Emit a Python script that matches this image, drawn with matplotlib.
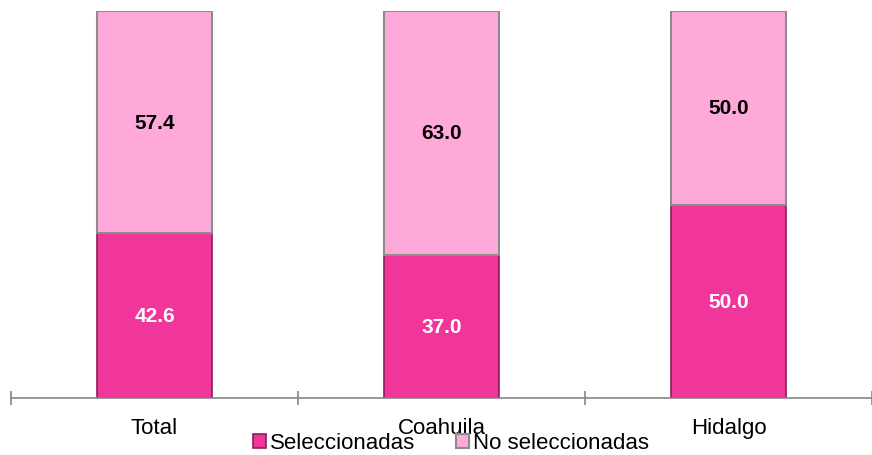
import numpy as np
from matplotlib import pyplot as plt

plt.rcParams['font.family'] = ['Liberation Sans', 'DejaVu Sans']

# Datos
categorias = ['Total', 'Coahuila', 'Hidalgo']
seleccionadas = [42.6, 37.0, 50.0]
no_seleccionadas = [57.4, 63.0, 50.0]

color_sel = '#F0369A'
color_no = '#FFA8DA'

fig = plt.figure(figsize=(8.72, 4.56), dpi=100)
ax = fig.add_axes([11/872, 57/456, 861/872, 387/456])

x = np.arange(len(categorias))
ancho = 0.4

ax.bar(x, seleccionadas, ancho, color=color_sel, edgecolor='#8A1F57',
       linewidth=1.2, label='Seleccionadas')
ax.bar(x, no_seleccionadas, ancho, bottom=seleccionadas, color=color_no,
       edgecolor='#8C8C8C', linewidth=1.5, label='No seleccionadas')

# Etiquetas de valores
for i in range(len(categorias)):
    ax.text(x[i], seleccionadas[i] / 2, f'{seleccionadas[i]:.1f}', ha='center',
            va='center', color='white', fontsize=15, fontweight='bold')
    ax.text(x[i], seleccionadas[i] + no_seleccionadas[i] / 2,
            f'{no_seleccionadas[i]:.1f}', ha='center', va='center',
            color='black', fontsize=15, fontweight='bold')

ax.set_xlim(-0.5, 2.469)
ax.set_ylim(0, 100)
ax.set_yticks([])
for lado in ['top', 'right', 'left']:
    ax.spines[lado].set_visible(False)
ax.spines['bottom'].set_color('#868686')
ax.spines['bottom'].set_linewidth(1.2)

ax.set_xticks(x)
ax.set_xticklabels(categorias, fontsize=16)
ax.tick_params(axis='x', length=0, pad=14)
ax.set_xticks([-0.5, 0.5, 1.5, 2.5], minor=True)
ax.tick_params(axis='x', which='minor', direction='inout', length=10,
               color='#868686', width=1.2)

ax.legend(loc='center', bbox_to_anchor=(451/872, 12/456),
          bbox_transform=fig.transFigure, ncol=2, frameon=False, fontsize=16,
          handlelength=0.6, handleheight=0.6, handletextpad=0.2,
          columnspacing=1.8, borderpad=0)

fig.savefig('out.png', dpi=100)
